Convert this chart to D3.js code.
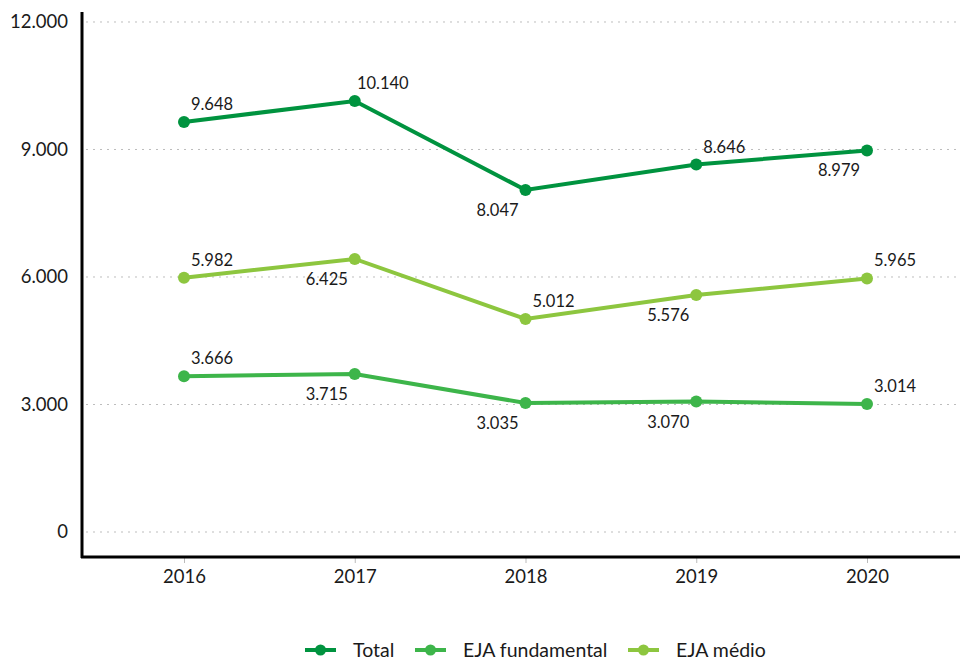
<!DOCTYPE html>
<html>
<head>
<meta charset="utf-8">
<script src="https://cdn.jsdelivr.net/npm/d3@7"></script>
<style>
  body { margin: 0; background: #fff; }
  text { font-family: Lato, "Open Sans", sans-serif; fill: #1a1a1a; }
</style>
</head>
<body>
<svg id="chart"></svg>
<script>
// données
const years = [2016, 2017, 2018, 2019, 2020]
const total = [9648, 10140, 8047, 8646, 8979]
const ejaFundamental = [3666, 3715, 3035, 3070, 3014]
const ejaMedio = [5982, 6425, 5012, 5576, 5965]
const yTicks = [0, 3000, 6000, 9000, 12000]
// position de l'étiquette : 1 = au-dessus, -1 = en dessous
const posTotal = [1, 1, -1, 1, -1]
const posFund = [1, -1, -1, -1, 1]
const posMedio = [1, -1, 1, -1, 1]

const series = [
  {name: 'Total', values: total, pos: posTotal, color: '#00933F'},
  {name: 'EJA fundamental', values: ejaFundamental, pos: posFund, color: '#3DB54A'},
  {name: 'EJA médio', values: ejaMedio, pos: posMedio, color: '#8DC63F'}
]

const width = 960, height = 661
const svg = d3.select('#chart').attr('width', width).attr('height', height)

const xScale = d3.scaleLinear().domain([2016, 2020]).range([184, 867])
const yScale = d3.scaleLinear().domain([-588, 12235]).range([557, 12])

const fmt = v => d3.format(',')(v).replace(/,/g, '.')

// grille
svg.append('g').selectAll('line')
  .data(yTicks)
  .enter().append('line')
  .attr('x1', 86).attr('x2', 956)
  .attr('y1', d => yScale(d)).attr('y2', d => yScale(d))
  .attr('stroke', '#bdbdbd').attr('stroke-width', 1)
  .attr('stroke-dasharray', '2,5')

// axe y
const yAxis = d3.axisLeft(yScale).tickValues(yTicks).tickSize(0).tickPadding(14).tickFormat(fmt)
const gy = svg.append('g').attr('transform', 'translate(82,0)').call(yAxis)
gy.select('.domain').remove()
gy.selectAll('text').style('font-size', '18.5px')
svg.append('line').attr('x1', 82).attr('x2', 82).attr('y1', 12).attr('y2', 558)
  .attr('stroke', '#000').attr('stroke-width', 3)

// axe x
const xAxis = d3.axisBottom(xScale).tickValues(years).tickSize(6).tickPadding(7).tickFormat(d3.format('d'))
const gx = svg.append('g').attr('transform', 'translate(0,557)').call(xAxis)
gx.select('.domain').remove()
gx.selectAll('line').attr('stroke', '#bbb')
gx.selectAll('text').style('font-size', '18.5px')
svg.append('line').attr('x1', 81).attr('x2', 960).attr('y1', 557).attr('y2', 557)
  .attr('stroke', '#000').attr('stroke-width', 3)

// lignes
const line = d3.line().x((d, i) => xScale(years[i])).y(d => yScale(d))

series.forEach(s => {
  svg.append('path')
    .datum(s.values)
    .attr('d', line)
    .attr('fill', 'none')
    .attr('stroke', s.color)
    .attr('stroke-width', 4)

  svg.append('g').selectAll('circle')
    .data(s.values)
    .enter().append('circle')
    .attr('cx', (d, i) => xScale(years[i]))
    .attr('cy', d => yScale(d))
    .attr('r', 6)
    .attr('fill', s.color)

  svg.append('g').selectAll('text')
    .data(s.values)
    .enter().append('text')
    .attr('x', (d, i) => xScale(years[i]) + (s.pos[i] > 0 ? 28 : -28))
    .attr('y', (d, i) => yScale(d) + (s.pos[i] > 0 ? -12 : 26))
    .attr('text-anchor', 'middle')
    .style('font-size', '16.5px')
    .text(d => fmt(d))
})

// légende
const legend = svg.append('g').attr('transform', 'translate(0,650)')
const legendX = [305, 415, 628]
series.forEach((s, i) => {
  const g = legend.append('g').attr('transform', 'translate(' + legendX[i] + ',0)')
  g.append('line').attr('x1', 0).attr('x2', 31).attr('y1', 0).attr('y2', 0)
    .attr('stroke', s.color).attr('stroke-width', 4)
  g.append('circle').attr('cx', 15.5).attr('cy', 0).attr('r', 5.5).attr('fill', s.color)
  g.append('text').attr('x', 48).attr('y', 7).style('font-size', '19.5px').text(s.name)
})
</script>
</body>
</html>
